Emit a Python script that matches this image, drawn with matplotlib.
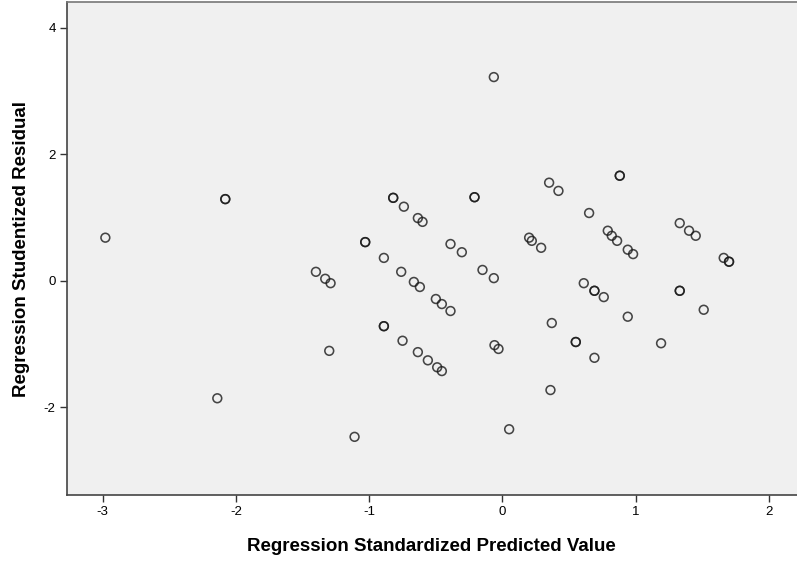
import numpy as np
import matplotlib.pyplot as plt

plt.rcParams['font.family'] = ['Liberation Sans', 'DejaVu Sans']
plt.rcParams['axes.unicode_minus'] = False

# regression standardized predicted value
pred = [-2.98, -2.08, -2.08, -2.14, -1.40, -1.33, -1.29, -1.30, -1.11, -1.03, -1.03,
        -0.89, -0.76, -0.665, -0.62, -0.89, -0.89, -0.75, -0.635, -0.56, -0.49, -0.455,
        -0.82, -0.82, -0.74, -0.635, -0.60, -0.50, -0.455, -0.39, -0.39, -0.305,
        -0.15, -0.065, -0.21, -0.21, -0.065, -0.06, -0.03, 0.05, 0.20, 0.22, 0.29,
        0.35, 0.42, 0.37, 0.36, 0.55, 0.55, 0.61, 0.69, 0.69, 0.76, 0.69, 0.65,
        0.79, 0.82, 0.86, 0.88, 0.88, 0.94, 0.98, 0.94, 1.19, 1.33, 1.40, 1.45,
        1.33, 1.33, 1.51, 1.66, 1.70, 1.70]

# regression studentized residual
resid = [0.68, 1.29, 1.29, -1.86, 0.14, 0.03, -0.04, -1.11, -2.47, 0.61, 0.61,
         0.36, 0.14, -0.02, -0.10, -0.72, -0.72, -0.95, -1.13, -1.26, -1.37, -1.43,
         1.31, 1.31, 1.17, 0.99, 0.93, -0.29, -0.37, -0.48, 0.58, 0.45,
         0.17, 0.04, 1.32, 1.32, 3.22, -1.02, -1.08, -2.35, 0.68, 0.63, 0.52,
         1.55, 1.42, -0.67, -1.73, -0.97, -0.97, -0.04, -0.16, -0.16, -0.26, -1.22, 1.07,
         0.79, 0.71, 0.63, 1.66, 1.66, 0.49, 0.42, -0.57, -0.99, 0.91, 0.79, 0.71,
         -0.16, -0.16, -0.46, 0.36, 0.30, 0.30]

xticks = [-3, -2, -1, 0, 1, 2]
yticks = [-2, 0, 2, 4]

fig = plt.figure(figsize=(7.97, 5.62), dpi=100)
ax = fig.add_axes([0.0837, 0.1192, 0.9163, 0.8764])
ax.set_facecolor('#f0f0f0')

ax.scatter(pred, resid, s=40, facecolors='none', edgecolors=(0.1, 0.1, 0.1, 0.8),
           linewidths=1.15, zorder=3)

ax.set_xlim(-3.27, 2.21)
ax.set_ylim(-3.39, 4.40)
ax.set_xticks(xticks)
ax.set_yticks(yticks)
ax.tick_params(direction='out', length=5, width=1, color='#333333',
               labelsize=9.5, pad=3)

for side in ['left', 'bottom']:
    ax.spines[side].set_color('#444444')
    ax.spines[side].set_linewidth(1.2)
ax.spines['top'].set_color('#777777')
ax.spines['top'].set_linewidth(1.2)
ax.spines['right'].set_visible(False)

ax.set_xlabel('Regression Standardized Predicted Value', fontsize=13.5,
              fontweight='bold', labelpad=14)
ax.set_ylabel('Regression Studentized Residual', fontsize=13.5,
              fontweight='bold', labelpad=10)

fig.savefig('out.png', dpi=100)
